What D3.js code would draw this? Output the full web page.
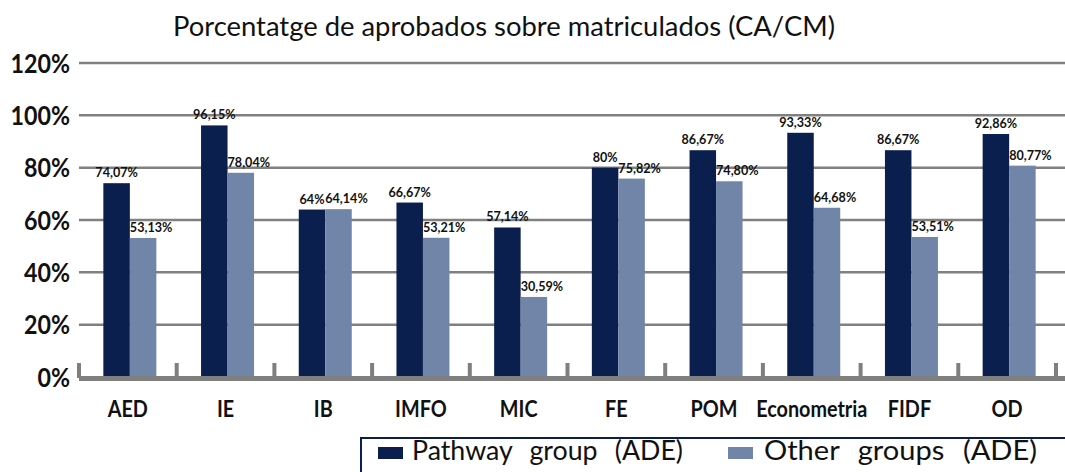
<!DOCTYPE html>
<html>
<head>
<meta charset="utf-8">
<script src="https://cdn.jsdelivr.net/npm/d3@7"></script>
<style>
  html, body { margin: 0; padding: 0; background: #ffffff; }
  svg { display: block; font-family: Lato, "Open Sans", sans-serif; }
</style>
</head>
<body>
<svg id="chart" width="1065" height="472"></svg>
<script>
// ---- data ----
const categories = ["AED", "IE", "IB", "IMFO", "MIC", "FE", "POM", "Econometria", "FIDF", "OD"];
const pathwayValues = [74.07, 96.15, 64.00, 66.67, 57.14, 80.00, 86.67, 93.33, 86.67, 92.86];
const otherValues   = [53.13, 78.04, 64.14, 53.21, 30.59, 75.82, 74.80, 64.68, 53.51, 80.77];
const pathwayLabels = ["74,07%", "96,15%", "64%", "66,67%", "57,14%", "80%", "86,67%", "93,33%", "86,67%", "92,86%"];
const otherLabels   = ["53,13%", "78,04%", "64,14%", "53,21%", "30,59%", "75,82%", "74,80%", "64,68%", "53,51%", "80,77%"];
const seriesNames = ["Pathway group (ADE)", "Other groups (ADE)"];
const yTicks = [0, 20, 40, 60, 80, 100, 120];
const yTickLabels = ["0%", "20%", "40%", "60%", "80%", "100%", "120%"];
const title = "Porcentatge de aprobados sobre matriculados (CA/CM)";

const colors = ["#0b1f4f", "#7085a8"];

const svg = d3.select("#chart");

// squeeze text horizontally (narrow humanist look of the original)
function squeeze(sel, f) {
  sel.each(function () {
    const w = this.getComputedTextLength();
    d3.select(this).attr("textLength", w * f).attr("lengthAdjust", "spacingAndGlyphs");
  });
}

const x = d3.scaleBand().domain(categories).range([79, 1056]).paddingInner(0).paddingOuter(0);
const barW = 26.5;
const po = (x.bandwidth() / barW - 2) / 2;
const xs = d3.scaleBand().domain([0, 1]).range([0, x.bandwidth()]).paddingInner(0).paddingOuter(po);
const y = d3.scaleLinear().domain([0, 120]).range([377, 63]);

// title
svg.append("text")
  .attr("x", 504).attr("y", 36)
  .attr("text-anchor", "middle")
  .attr("font-size", 26)
  .attr("fill", "#111")
  .attr("textLength", 662).attr("lengthAdjust", "spacingAndGlyphs")
  .text(title);

// gridlines
svg.append("g").selectAll("line")
  .data(yTicks.filter(d => d > 0))
  .join("line")
  .attr("x1", 79).attr("x2", 1065)
  .attr("y1", d => y(d)).attr("y2", d => y(d))
  .attr("stroke", "#808080").attr("stroke-width", 2.5);

// y labels
svg.append("g").selectAll("text")
  .data(yTicks)
  .join("text")
  .attr("x", 70).attr("y", d => y(d))
  .attr("dy", "0.36em")
  .attr("text-anchor", "end")
  .attr("font-size", 27).attr("font-weight", 700)
  .attr("fill", "#111")
  .text((d, i) => yTickLabels[i])
  .call(squeeze, 0.86);

// bars
const rows = categories.map((c, i) => ({ c, vals: [pathwayValues[i], otherValues[i]], labs: [pathwayLabels[i], otherLabels[i]] }));
const groups = svg.append("g").selectAll("g")
  .data(rows)
  .join("g")
  .attr("transform", d => `translate(${x(d.c) + 2},0)`);

groups.selectAll("rect")
  .data(d => d.vals.map((v, k) => ({ v, k })))
  .join("rect")
  .attr("x", d => xs(d.k))
  .attr("width", xs.bandwidth())
  .attr("y", d => y(d.v))
  .attr("height", d => y(0) - y(d.v))
  .attr("fill", d => colors[d.k]);

groups.selectAll("text")
  .data(d => d.vals.map((v, k) => ({ v, k, lab: d.labs[k] })))
  .join("text")
  .attr("x", d => d.k === 0 ? xs(0) + xs.bandwidth() / 2 : xs(1))
  .attr("y", d => y(d.v) - 6)
  .attr("text-anchor", d => d.k === 0 ? "middle" : "start")
  .attr("font-size", 14).attr("font-weight", 700)
  .attr("fill", "#111")
  .text(d => d.lab)
  .call(squeeze, 0.9);

// baseline axis
svg.append("line")
  .attr("x1", 79).attr("x2", 1065)
  .attr("y1", 378.5).attr("y2", 378.5)
  .attr("stroke", "#7f7f7f").attr("stroke-width", 5);

// upward tick marks at band boundaries
const bounds = categories.map(c => x(c)).concat([x.range()[1]]);
svg.append("g").selectAll("line")
  .data(bounds)
  .join("line")
  .attr("x1", d => d).attr("x2", d => d)
  .attr("y1", 363).attr("y2", 378)
  .attr("stroke", "#7f7f7f").attr("stroke-width", 4);

// category labels
svg.append("g").selectAll("text")
  .data(categories)
  .join("text")
  .attr("x", d => x(d) + x.bandwidth() / 2)
  .attr("y", 417)
  .attr("text-anchor", "middle")
  .attr("font-size", 22).attr("font-weight", 700)
  .attr("fill", "#111")
  .text(d => d)
  .call(squeeze, 0.9);

// legend
const lg = svg.append("g");
lg.append("rect")
  .attr("x", 361).attr("y", 438)
  .attr("width", 720).attr("height", 50)
  .attr("fill", "#fff")
  .attr("stroke", "#0b1f4f").attr("stroke-width", 2);
const legX = [378, 728];
const legTX = [412, 764];
const legEnd = [683, 1037];
seriesNames.forEach((s, k) => {
  lg.append("rect")
    .attr("x", legX[k]).attr("y", 447)
    .attr("width", 25).attr("height", 12)
    .attr("fill", colors[k]);
  lg.append("text")
    .attr("x", legTX[k]).attr("y", 460)
    .attr("font-size", 26)
    .attr("word-spacing", 10)
    .attr("fill", "#111")
    .attr("textLength", legEnd[k] - legTX[k])
    .attr("lengthAdjust", "spacingAndGlyphs")
    .text(s);
});
</script>
</body>
</html>
